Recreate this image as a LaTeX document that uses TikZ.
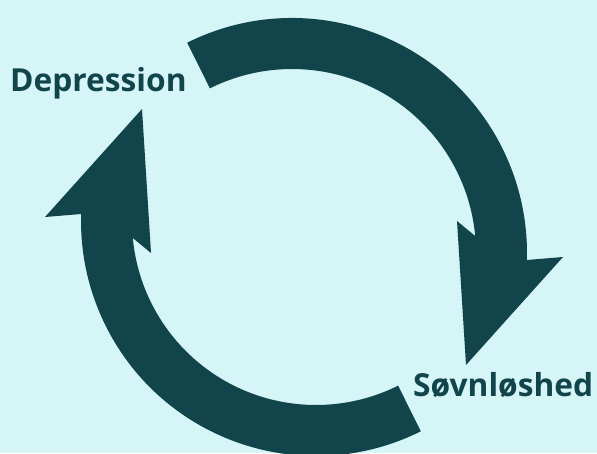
\documentclass[tikz,border=0pt]{standalone}
\usepackage{fontspec}
\setmainfont{Open Sans}
\definecolor{bgc}{RGB}{214,245,247}
\definecolor{arrc}{RGB}{17,68,75}
\tikzset{
  cyclearrow/.style={fill=arrc, draw=none},
  lbl/.style={anchor=base west, inner sep=0pt, text=arrc, font=\bfseries\fontsize{31.7}{38}\selectfont}
}
\begin{document}
\begin{tikzpicture}[x=1pt,y=1pt]
\fill[bgc] (0,0) rectangle (597,453);
\useasboundingbox (0,0) rectangle (597,453);
% top (clockwise) arrow, centre (292,200)
\begin{scope}[shift={(292,200)}]
\fill[cyclearrow] (116.5:235pt) arc[start angle=116.5, end angle=-1.7, radius=235pt]
  -- (271,-4) -- (174,-112) -- (165,32)
  -- (5.3:184pt) arc[start angle=5.3, end angle=116.5, radius=184pt] -- cycle;
\end{scope}
% bottom arrow, centre (316,232)
\begin{scope}[shift={(316,232)}]
\fill[cyclearrow] (296.5:235pt) arc[start angle=296.5, end angle=178.3, radius=235pt]
  -- (-271,4) -- (-174,112) -- (-165,-32)
  -- (185.3:184pt) arc[start angle=185.3, end angle=296.5, radius=184pt] -- cycle;
\end{scope}
\node[lbl] (dep) at (10,361) {Depression};
\node[lbl] (sov) at (413,57) {Søvnløshed};
\end{tikzpicture}
\end{document}
